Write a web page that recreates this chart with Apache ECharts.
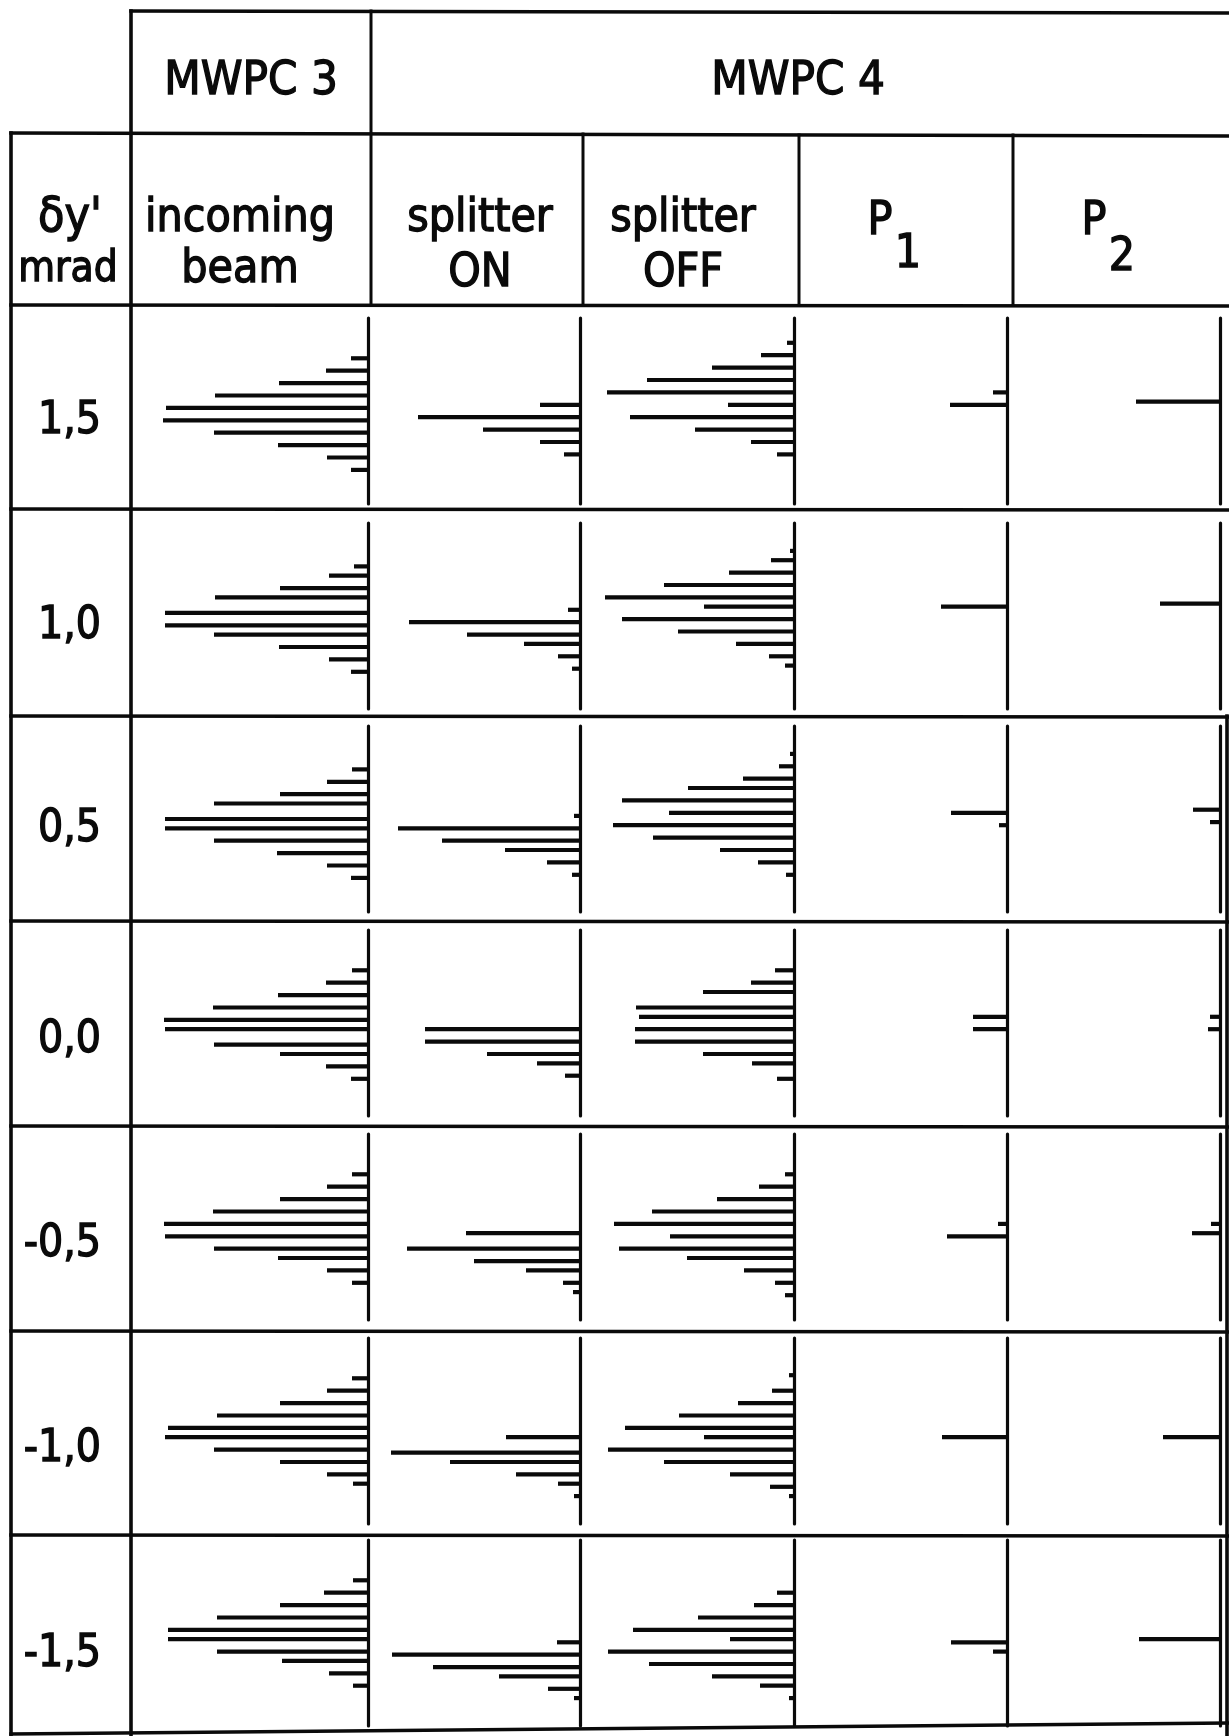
<!DOCTYPE html>
<html>
<head>
<meta charset="utf-8">
<script src="https://cdn.jsdelivr.net/npm/echarts@6/dist/echarts.min.js"></script>
<style>html,body{margin:0;padding:0;background:#fff}#c{width:1229px;height:1736px}</style>
</head>
<body>
<div id="c"></div>
<script>
// ---------------- DATA ----------------
const deltaY = ['1,5', '1,0', '0,5', '0,0', '-0,5', '-1,0', '-1,5'];
const headerTop = ['MWPC 3', 'MWPC 4'];
const headerSub = [['incoming', 'beam'], ['splitter', 'ON'], ['splitter', 'OFF']];
const padLabels = [['P', '1'], ['P', '2']];
// each histogram: [wire position (wire pitches from top of baseline), bar length (counts)]
const incomingBeam = [
  [[3.25,17],[4.25,42],[5.25,89],[6.25,153],[7.25,202],[8.25,205],[9.25,154],[10.25,90],[11.25,41],[12.25,17]],
  [[3.5,14],[4.25,39],[5.25,88],[6,153],[7.25,203],[8.25,203],[9,154],[10,89],[11,39],[12,17]],
  [[3.5,16],[4.5,41],[5.5,88],[6.25,154],[7.5,203],[8.25,203],[9.25,154],[10.25,91],[11.25,41],[12.25,17]],
  [[3.25,16],[4.25,42],[5.25,90],[6.25,155],[7.25,204],[8,203],[9.25,154],[10,88],[11,42],[12,17]],
  [[3.25,16],[4.25,41],[5.25,88],[6.25,155],[7.25,204],[8.25,203],[9.25,154],[10,90],[11,41],[12,16]],
  [[3.25,16],[4.25,41],[5.25,88],[6.25,151],[7.25,200],[8,203],[9,154],[10,88],[11,41],[11.75,15]],
  [[3.25,15],[4.25,44],[5.25,88],[6.25,151],[7.25,200],[8,200],[9,151],[9.75,86],[10.75,39],[11.75,15]]
];
const splitterOn = [
  [[7,40],[8,162],[9,97],[10,40],[11,16]],
  [[7,12],[8,171],[9,113],[9.75,56],[10.75,22],[11.75,8]],
  [[7.25,6],[8.25,182],[9.25,138],[10,75],[11,33],[12,8]],
  [[8,155],[9,155],[10,93],[10.75,43],[11.75,15]],
  [[8,114],[9.25,173],[10.25,106],[11,54],[12,17],[12.75,7]],
  [[8,74],[9.25,189],[10,130],[11,64],[11.75,22],[12.75,6]],
  [[8.25,23],[9.25,188],[10.25,147],[11,81],[12,32],[12.75,6]]
];
const splitterOff = [
  [[2,7],[3,33],[4,82],[5,147],[6,187],[7,66],[8,164],[9,99],[10,43],[11,17]],
  [[2.25,4],[3,23],[4,65],[5,130],[6,189],[6.75,90],[7.75,172],[8.75,116],[9.75,58],[10.75,25],[11.5,9]],
  [[2.25,4],[3.25,15],[4.25,51],[5,106],[6,172],[7,125],[8,181],[9,141],[10,74],[11,36],[12,8]],
  [[3.25,19],[4.25,43],[5,91],[6.25,158],[7,155],[8,159],[9,159],[10,91],[10.75,42],[12,17]],
  [[3.25,9],[4.25,35],[5.25,77],[6.25,142],[7.25,180],[8.25,124],[9.25,175],[10,107],[11,50],[12,19],[13,9]],
  [[3,5],[4.25,22],[5.25,56],[6.25,115],[7.25,169],[8,90],[9,186],[10,130],[11,64],[12,24],[12.75,5]],
  [[4.25,17],[5.25,40],[6.25,96],[7.25,161],[8,64],[9,186],[10,145],[11,82],[11.75,34],[12.75,5]]
];
const padP1 = [
  [[6,14],[7,57]],
  [[6.75,66]],
  [[7,56],[8,8]],
  [[7,34],[8,34]],
  [[7.25,9],[8.25,60]],
  [[8,65]],
  [[8.25,56],[9,14]]
];
const padP2 = [
  [[6.75,84]],
  [[6.5,60]],
  [[6.75,27],[7.75,10]],
  [[7,10],[8,12]],
  [[7.25,9],[8,28]],
  [[8,57]],
  [[8,81]]
];
// wire position categories (quarter-pitch resolution)
const wirePositions = [];
for (let k = 0; k <= 60; k++) wirePositions.push(String(k / 4));

// ---------------- LAYOUT ----------------
const FONT = "'DejaVu Sans Condensed','Liberation Sans Narrow','DejaVu Sans',sans-serif";
const INK = '#0a0a0a';
const columns = [incomingBeam, splitterOn, splitterOff, padP1, padP2];
const rowTop = [318, 523, 726, 930, 1134, 1338, 1540];
const ROW_H = 186;
const baseX = [368, 580, 794, 1007, 1220];
const GRID_W = 212;

const grid = [], xAxis = [], yAxis = [], series = [];
for (let r = 0; r < 7; r++) {
  for (let c = 0; c < 5; c++) {
    const idx = grid.length;
    grid.push({left: baseX[c] - GRID_W, width: GRID_W, top: rowTop[r], height: ROW_H, containLabel: false});
    xAxis.push({gridIndex: idx, type: 'value', inverse: true, min: 0, max: GRID_W, show: false});
    yAxis.push({
      gridIndex: idx, type: 'category', data: wirePositions, inverse: true, boundaryGap: false,
      position: 'right',
      axisLine: {show: true, onZero: false, lineStyle: {color: INK, width: 3.2, cap: 'round'}},
      axisTick: {show: false}, axisLabel: {show: false}, splitLine: {show: false}
    });
    const data = new Array(wirePositions.length).fill(null);
    columns[c][r].forEach(([p, len]) => { data[wirePositions.indexOf(String(p))] = len; });
    series.push({
      type: 'bar', xAxisIndex: idx, yAxisIndex: idx, data: data, barWidth: 4.2,
      itemStyle: {color: INK}, silent: true
    });
  }
}

const graphic = [];
function line(x1, y1, x2, y2, w) {
  graphic.push({type: 'line', silent: true, shape: {x1, y1, x2, y2},
    style: {stroke: INK, lineWidth: w || 3.6, lineCap: 'square'}});
}
function text(t, x, y, size, align) {
  graphic.push({type: 'text', silent: true, x: x, y: y,
    style: {text: t, fill: INK, stroke: INK, lineWidth: 1.3,
      font: 'normal ' + size + 'px ' + FONT,
      textAlign: align || 'center', textVerticalAlign: 'middle'}});
}
// table rules
line(131, 11, 1229, 13);
line(11, 133, 1229, 136);
line(11, 305, 1229, 306);
[509, 716, 921, 1126, 1331, 1535].forEach(y => line(11, y, 1229, y + 1));
line(11, 1734, 1229, 1723);
line(11, 133, 11, 1736);
line(131, 11, 131, 1736);
line(371, 11, 371, 305, 3);
line(583, 134, 583, 305, 3);
line(799, 135, 799, 305, 3);
line(1013, 135, 1013, 305, 3);
line(1227, 716, 1227, 1736);

// header texts
text(headerTop[0], 251, 82, 47);
text(headerTop[1], 798, 82, 47);
text("δy'", 70, 219, 48);
text('mrad', 68, 270, 42);
const subX = [240, 480, 683];
headerSub.forEach((h, i) => {
  text(h[0], subX[i], 219, 46);
  text(h[1], subX[i], i === 0 ? 270 : 274, 46);
});
text(padLabels[0][0], 880, 222, 46); text(padLabels[0][1], 908, 255, 46);
text(padLabels[1][0], 1094, 222, 46); text(padLabels[1][1], 1122, 258, 46);
// row labels
const labelY = [422, 627, 830, 1041, 1245, 1450, 1655];
deltaY.forEach((t, i) => text(t, 101, labelY[i], 44, 'right'));

const chart = echarts.init(document.getElementById('c'), null, {renderer: 'canvas'});
chart.setOption({animation: false, backgroundColor: '#fff', grid, xAxis, yAxis, series, graphic});
</script>
</body>
</html>
